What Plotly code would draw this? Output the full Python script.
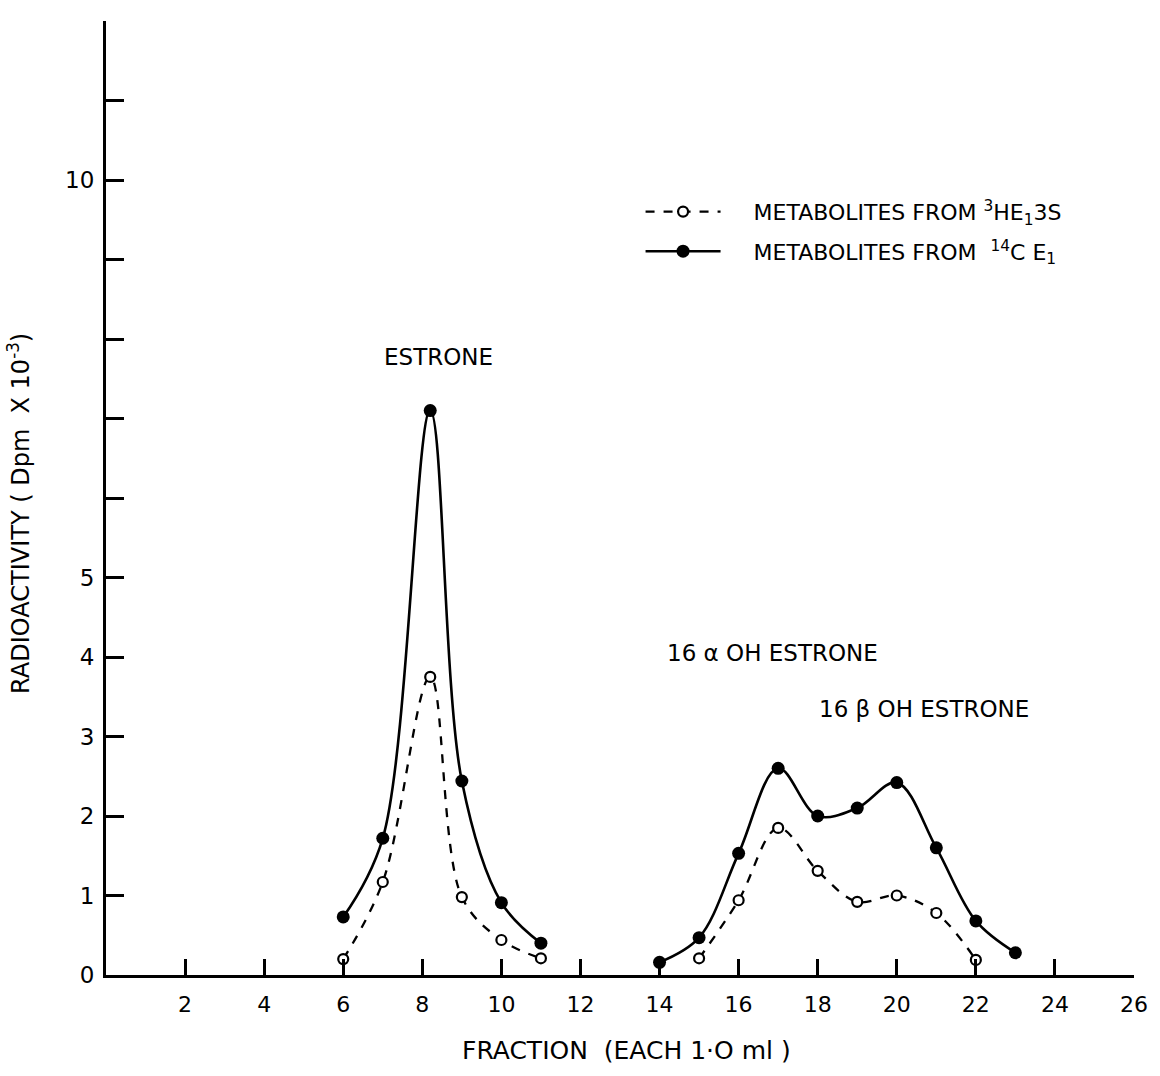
import plotly.graph_objects as go

# Fractions and radioactivity (Dpm x 10^-3)
frac_c14 = [6, 7, 8.2, 9, 10, 11, None, 14, 15, 16, 17, 18, 19, 20, 21, 22, 23]
val_c14 = [0.73, 1.72, 7.1, 2.44, 0.91, 0.40, None, 0.16, 0.47, 1.53, 2.6, 2.0, 2.1, 2.42, 1.6, 0.68, 0.28]

frac_h3 = [6, 7, 8.2, 9, 10, 11, None, 15, 16, 17, 18, 19, 20, 21, 22]
val_h3 = [0.20, 1.17, 3.75, 0.98, 0.44, 0.21, None, 0.21, 0.94, 1.85, 1.31, 0.92, 1.00, 0.78, 0.19]

x_ticks = [2, 4, 6, 8, 10, 12, 14, 16, 18, 20, 22, 24, 26]
y_ticks = list(range(0, 13))
y_ticktext = ["0", "1", "2", "3", "4", "5", "", "", "", "", "10", "", ""]

peak_labels = ["ESTRONE", "16 \u03b1 OH ESTRONE", "16 \u03b2 OH ESTRONE"]
peak_x = [8.4, 16.85, 20.7]
peak_y = [7.77, 4.05, 3.35]

FONT = "DejaVu Sans"

fig = go.Figure()
fig.add_trace(go.Scatter(
    x=frac_h3, y=val_h3, mode="lines+markers",
    name="\u00a0\u00a0\u00a0\u00a0METABOLITES FROM <sup>3</sup>HE<sub>1</sub>3S",
    legendgroup="a",
    line=dict(color="black", width=2.3, dash="dash", shape="spline", smoothing=1),
    marker=dict(symbol="circle", size=10, color="white", line=dict(color="black", width=2.2)),
    connectgaps=False,
))
fig.add_trace(go.Scatter(
    x=frac_c14, y=val_c14, mode="lines+markers",
    name="\u00a0\u00a0\u00a0\u00a0METABOLITES FROM  <sup>14</sup>C E<sub>1</sub>",
    legendgroup="b",
    line=dict(color="black", width=2.6, shape="spline", smoothing=1),
    marker=dict(symbol="circle", size=13, color="black"),
    connectgaps=False,
))

for t, x, y in zip(peak_labels, peak_x, peak_y):
    fig.add_annotation(x=x, y=y, text=t, showarrow=False,
                       font=dict(family=FONT, size=23, color="black"),
                       xanchor="center", yanchor="middle")

# axis titles
fig.add_annotation(xref="paper", yref="paper", x=-0.084, y=0.484,
                   text="RADIOACTIVITY ( Dpm  X 10<sup>-3</sup>)", textangle=-90,
                   showarrow=False, font=dict(family=FONT, size=24, color="black"),
                   xanchor="center", yanchor="middle")
fig.add_annotation(xref="paper", yref="paper", x=0.506, y=-0.079,
                   text="FRACTION  (EACH 1\u00b7O ml )",
                   showarrow=False, font=dict(family=FONT, size=25, color="black"),
                   xanchor="center", yanchor="middle")

fig.update_layout(
    width=1160, height=1076,
    margin=dict(l=106, r=23, t=21, b=101),
    paper_bgcolor="white", plot_bgcolor="white",
    font=dict(family=FONT, size=22, color="black"),
    legend=dict(x=0.52, y=0.822, xanchor="left", yanchor="top",
                bgcolor="rgba(0,0,0,0)", font=dict(family=FONT, size=22),
                itemwidth=75, tracegroupgap=8),
    showlegend=True,
    xaxis=dict(range=[0, 26], tickvals=x_ticks, ticks="inside", ticklen=16,
               tickwidth=2.5, tickcolor="black", showline=True, linecolor="black",
               linewidth=3, showgrid=False, zeroline=False,
               tickfont=dict(family=FONT, size=22), ticklabelstandoff=8),
    yaxis=dict(range=[0, 12], tickvals=y_ticks, ticktext=y_ticktext,
               ticks="inside", ticklen=18, tickwidth=2.5, tickcolor="black",
               showline=True, linecolor="black", linewidth=3, showgrid=False,
               zeroline=False, tickfont=dict(family=FONT, size=23),
               ticklabelstandoff=4),
)

fig.write_html("out.html")
